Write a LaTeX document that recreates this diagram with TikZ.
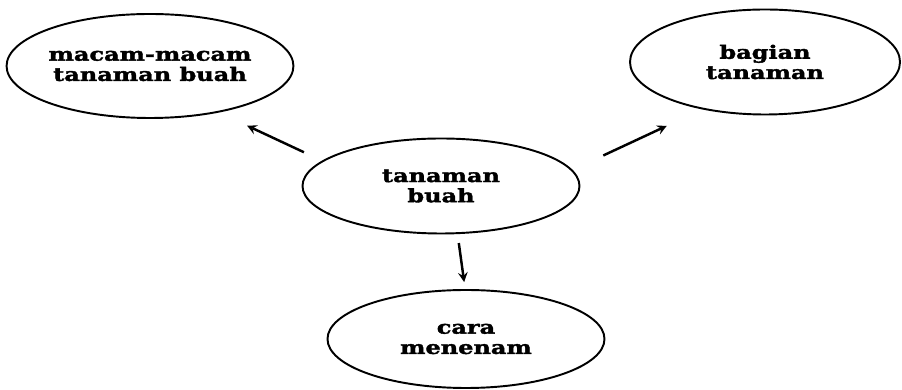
\documentclass[tikz,border=0pt]{standalone}
\usepackage{fontspec}
\usepackage{tikz}
\newfontfamily\mapfont{DejaVu Serif}[FakeStretch=1.3,FakeBold=2]
\usetikzlibrary{shapes,arrows,positioning}

\begin{document}
\begin{tikzpicture}[
    topic/.style={
        ellipse,
        draw,
        line width=1.1pt,
        inner sep=0pt,
        minimum width=5.5cm,
        minimum height=2cm,
        align=center,
        font=\mapfont\bfseries\fontsize{10.5}{11.5}\selectfont
    },
    arrow/.style={-stealth,line width=1.4pt}
]
    \useasboundingbox (0,0) rectangle (18.04,7.8);

    % Topics
    \node[topic, minimum width=5.46cm, minimum height=2.08cm] (macam) at (3.0,6.48) {
        macam-macam\\
        tanaman buah
    };
    
    \node[topic, minimum width=5.4cm, minimum height=2.1cm] (bagian) at (15.3,6.56) {
        bagian\\
        tanaman
    };
    
    \node[topic, minimum width=5.54cm, minimum height=1.9cm] (tanaman) at (8.82,4.08) {
        tanaman\\
        buah
    };
    
    \node[topic, minimum width=5.54cm, minimum height=1.96cm] (cara) at (9.32,1.02) {
        cara\\
        menenam
    };
    
    % Arrows
    \draw[arrow, shorten <=0.4cm, shorten >=0.62cm] (tanaman.168.8) -- (macam.-34);
    \draw[arrow, shorten <=0.68cm, shorten >=0.78cm] (tanaman.7.3) -- (bagian.-143.2);
    \draw[arrow, shorten <=0.18cm, shorten >=0.14cm] (tanaman.-71) -- (cara.91);
\end{tikzpicture}
\end{document}
